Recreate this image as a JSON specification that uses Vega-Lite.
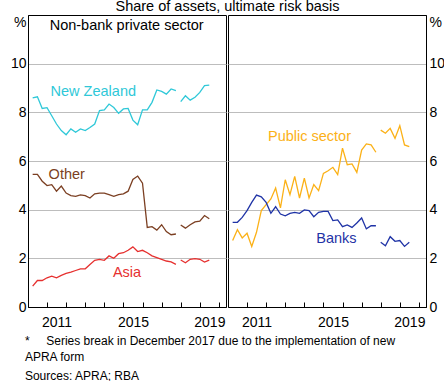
{
  "$schema": "https://vega.github.io/schema/vega-lite/v6.json",
  "padding": {"left": 9, "top": -2, "right": 1, "bottom": 0},
  "config": {
    "font": "Liberation Sans",
    "view": {"stroke": "black", "strokeWidth": 1},
    "concat": {"spacing": 0}
  },
  "title": {"text": "Share of assets, ultimate risk basis", "fontSize": 14.5, "fontWeight": "normal", "color": "black", "anchor": "middle", "frame": "bounds", "offset": 0},
  "datasets": {
    "main": [
      {"date": "2010-03-31", "seg": 1, "New Zealand": 8.59, "Other": 5.45, "Asia": 0.86, "Public sector": 2.73, "Banks": 3.48},
      {"date": "2010-06-30", "seg": 1, "New Zealand": 8.64, "Other": 5.45, "Asia": 1.09, "Public sector": 3.18, "Banks": 3.48},
      {"date": "2010-09-30", "seg": 1, "New Zealand": 8.16, "Other": 5.17, "Asia": 1.09, "Public sector": 2.84, "Banks": 3.68},
      {"date": "2010-12-31", "seg": 1, "New Zealand": 8.19, "Other": 4.99, "Asia": 1.2, "Public sector": 3.03, "Banks": 3.96},
      {"date": "2011-03-31", "seg": 1, "New Zealand": 7.86, "Other": 5.03, "Asia": 1.27, "Public sector": 2.49, "Banks": 4.3},
      {"date": "2011-06-30", "seg": 1, "New Zealand": 7.52, "Other": 4.76, "Asia": 1.2, "Public sector": 3.07, "Banks": 4.6},
      {"date": "2011-09-30", "seg": 1, "New Zealand": 7.25, "Other": 4.97, "Asia": 1.3, "Public sector": 3.96, "Banks": 4.53},
      {"date": "2011-12-31", "seg": 1, "New Zealand": 7.08, "Other": 4.68, "Asia": 1.38, "Public sector": 4.21, "Banks": 4.3},
      {"date": "2012-03-31", "seg": 1, "New Zealand": 7.32, "Other": 4.58, "Asia": 1.43, "Public sector": 4.44, "Banks": 3.85},
      {"date": "2012-06-30", "seg": 1, "New Zealand": 7.18, "Other": 4.55, "Asia": 1.5, "Public sector": 4.89, "Banks": 4.12},
      {"date": "2012-09-30", "seg": 1, "New Zealand": 7.32, "Other": 4.61, "Asia": 1.57, "Public sector": 4.07, "Banks": 3.82},
      {"date": "2012-12-31", "seg": 1, "New Zealand": 7.25, "Other": 4.58, "Asia": 1.57, "Public sector": 5.23, "Banks": 3.75},
      {"date": "2013-03-31", "seg": 1, "New Zealand": 7.38, "Other": 4.48, "Asia": 1.75, "Public sector": 4.62, "Banks": 3.85},
      {"date": "2013-06-30", "seg": 1, "New Zealand": 7.52, "Other": 4.65, "Asia": 1.92, "Public sector": 5.37, "Banks": 3.89},
      {"date": "2013-09-30", "seg": 1, "New Zealand": 8.07, "Other": 4.68, "Asia": 1.96, "Public sector": 4.48, "Banks": 3.85},
      {"date": "2013-12-31", "seg": 1, "New Zealand": 8.1, "Other": 4.68, "Asia": 1.92, "Public sector": 5.3, "Banks": 3.99},
      {"date": "2014-03-31", "seg": 1, "New Zealand": 8.34, "Other": 4.62, "Asia": 2.1, "Public sector": 4.48, "Banks": 3.96},
      {"date": "2014-06-30", "seg": 1, "New Zealand": 8.2, "Other": 4.55, "Asia": 2.0, "Public sector": 5.03, "Banks": 3.71},
      {"date": "2014-09-30", "seg": 1, "New Zealand": 7.96, "Other": 4.62, "Asia": 2.19, "Public sector": 4.78, "Banks": 3.89},
      {"date": "2014-12-31", "seg": 1, "New Zealand": 8.14, "Other": 4.65, "Asia": 2.23, "Public sector": 5.49, "Banks": 3.93},
      {"date": "2015-03-31", "seg": 1, "New Zealand": 8.16, "Other": 4.76, "Asia": 2.33, "Public sector": 5.6, "Banks": 3.93},
      {"date": "2015-06-30", "seg": 1, "New Zealand": 7.68, "Other": 5.24, "Asia": 2.47, "Public sector": 5.74, "Banks": 3.55},
      {"date": "2015-09-30", "seg": 1, "New Zealand": 7.49, "Other": 5.38, "Asia": 2.28, "Public sector": 5.44, "Banks": 3.58},
      {"date": "2015-12-31", "seg": 1, "New Zealand": 8.1, "Other": 5.09, "Asia": 2.33, "Public sector": 6.53, "Banks": 3.3},
      {"date": "2016-03-31", "seg": 1, "New Zealand": 8.1, "Other": 3.27, "Asia": 2.23, "Public sector": 5.85, "Banks": 3.37},
      {"date": "2016-06-30", "seg": 1, "New Zealand": 8.41, "Other": 3.3, "Asia": 2.1, "Public sector": 5.88, "Banks": 3.27},
      {"date": "2016-09-30", "seg": 1, "New Zealand": 8.92, "Other": 3.16, "Asia": 2.03, "Public sector": 5.53, "Banks": 3.45},
      {"date": "2016-12-31", "seg": 1, "New Zealand": 8.86, "Other": 3.38, "Asia": 1.96, "Public sector": 6.45, "Banks": 3.66},
      {"date": "2017-03-31", "seg": 1, "New Zealand": 8.75, "Other": 3.1, "Asia": 1.89, "Public sector": 6.7, "Banks": 3.21},
      {"date": "2017-06-30", "seg": 1, "New Zealand": 8.96, "Other": 2.97, "Asia": 1.85, "Public sector": 6.66, "Banks": 3.34},
      {"date": "2017-09-30", "seg": 1, "New Zealand": 8.89, "Other": 3.0, "Asia": 1.75, "Public sector": 6.36, "Banks": 3.34},
      {"date": "2017-12-31", "seg": 2, "New Zealand": 8.44, "Other": 3.37, "Asia": 1.93, "Public sector": 7.27, "Banks": 2.66},
      {"date": "2018-03-31", "seg": 2, "New Zealand": 8.68, "Other": 3.24, "Asia": 1.82, "Public sector": 7.14, "Banks": 2.52},
      {"date": "2018-06-30", "seg": 2, "New Zealand": 8.5, "Other": 3.38, "Asia": 1.96, "Public sector": 7.34, "Banks": 2.89},
      {"date": "2018-09-30", "seg": 2, "New Zealand": 8.62, "Other": 3.5, "Asia": 1.99, "Public sector": 6.93, "Banks": 2.7},
      {"date": "2018-12-31", "seg": 2, "New Zealand": 8.82, "Other": 3.53, "Asia": 1.96, "Public sector": 7.45, "Banks": 2.73},
      {"date": "2019-03-31", "seg": 2, "New Zealand": 9.1, "Other": 3.76, "Asia": 1.85, "Public sector": 6.66, "Banks": 2.49},
      {"date": "2019-06-30", "seg": 2, "New Zealand": 9.12, "Other": 3.63, "Asia": 1.93, "Public sector": 6.59, "Banks": 2.66}
    ],
    "labels": [
      {"label": "Non-bank private sector", "date": "2015-03-03", "value": 11.55, "panel": "L"},
      {"label": "New Zealand", "date": "2013-06-03", "value": 8.84, "panel": "L"},
      {"label": "Other", "date": "2012-01-12", "value": 5.44, "panel": "L"},
      {"label": "Asia", "date": "2015-03-10", "value": 1.4, "panel": "L"},
      {"label": "Public sector", "date": "2014-04-08", "value": 6.98, "panel": "R"},
      {"label": "Banks", "date": "2015-09-06", "value": 2.81, "panel": "R"}
    ]
  },
  "vconcat": [
    {
      "title": {
        "text": ["*\u00a0\u00a0\u00a0\u00a0\u00a0Series break in December 2017 due to the implementation of new", "\u00a0\u00a0\u00a0\u00a0\u00a0\u00a0\u00a0APRA form"],
        "subtitle": "Sources: APRA; RBA",
        "orient": "bottom", "anchor": "start", "frame": "bounds", "dx": 15, "offset": 6,
        "fontSize": 12, "fontWeight": "normal", "color": "black", "lineHeight": 16,
        "subtitleFontSize": 12, "subtitleColor": "black", "subtitlePadding": 7, "subtitleFont": "Liberation Sans"
      },
      "hconcat": [
        {
          "width": 198, "height": 292,
          "encoding": {
            "x": {"field": "date", "type": "temporal",
              "scale": {"type": "utc", "domain": [1262304000000, 1589500800000]},
              "axis": {"title": null, "grid": false, "orient": "bottom",
                "values": [1293840000000, 1325376000000, 1356998400000, 1388534400000, 1420070400000, 1451606400000, 1483228800000, 1514764800000, 1546300800000, 1577836800000, 1309564800000, 1435795200000, 1562025600000],
                "labelExpr": "utcmonth(datum.value) > 3 ? utcFormat(datum.value, '%Y') : ''",
                "tickOpacity": {"condition": {"test": "utcmonth(datum.value) > 3", "value": 0}, "value": 1},
                "tickSize": -5, "tickColor": "black", "domainColor": "black", "labelPadding": 13,
                "labelFontSize": 14, "labelColor": "black", "labelFlush": false, "labelOverlap": false}},
            "y": {"field": "value", "type": "quantitative", "scale": {"domain": [0, 12], "nice": false},
              "axis": {"title": null, "orient": "left", "values": [0, 2, 4, 6, 8, 10, 12],
                "labelExpr": "datum.value == 12 ? '%' : datum.label",
                "labelBaseline": {"condition": {"test": "datum.value == 12", "value": "top"}, "value": "middle"},
                "grid": true, "gridColor": "#bdbdbd",
                "gridOpacity": {"condition": {"test": "datum.value == 0 || datum.value == 12", "value": 0}, "value": 1},
                "tickSize": 0, "labelPadding": 2, "domainColor": "black",
                "labelFontSize": 14, "labelColor": "black", "labelFlush": false, "labelOverlap": false}}
          },
          "layer": [
            {
              "data": {"name": "main"},
              "transform": [{"fold": ["New Zealand", "Other", "Asia"], "as": ["series", "value"]}],
              "mark": {"type": "line", "strokeWidth": 1.3},
              "encoding": {
                "color": {"field": "series", "type": "nominal", "legend": null,
                  "scale": {"domain": ["New Zealand", "Other", "Asia", "Public sector", "Banks", "Non-bank private sector"], "range": ["#2fc8d8", "#7b3f22", "#e6302f", "#fbb117", "#1f33a6", "#000000"]}},
                "detail": {"field": "seg", "type": "nominal"}
              }
            },
            {
              "data": {"name": "labels"},
              "transform": [{"filter": "datum.panel == 'L'"}],
              "mark": {"type": "text", "fontSize": 14.5, "align": "center", "baseline": "middle"},
              "encoding": {
                "text": {"field": "label"},
                "color": {"field": "label", "type": "nominal", "legend": null,
                  "scale": {"domain": ["New Zealand", "Other", "Asia", "Public sector", "Banks", "Non-bank private sector"], "range": ["#2fc8d8", "#7b3f22", "#e6302f", "#fbb117", "#1f33a6", "#000000"]}}
              }
            }
          ]
        },
        {
          "width": 198, "height": 292,
          "encoding": {
            "x": {"field": "date", "type": "temporal",
              "scale": {"type": "utc", "domain": [1262304000000, 1589500800000]},
              "axis": {"title": null, "grid": false, "orient": "bottom",
                "values": [1293840000000, 1325376000000, 1356998400000, 1388534400000, 1420070400000, 1451606400000, 1483228800000, 1514764800000, 1546300800000, 1577836800000, 1309564800000, 1435795200000, 1562025600000],
                "labelExpr": "utcmonth(datum.value) > 3 ? utcFormat(datum.value, '%Y') : ''",
                "tickOpacity": {"condition": {"test": "utcmonth(datum.value) > 3", "value": 0}, "value": 1},
                "tickSize": -5, "tickColor": "black", "domainColor": "black", "labelPadding": 13,
                "labelFontSize": 14, "labelColor": "black", "labelFlush": false, "labelOverlap": false}},
            "y": {"field": "value", "type": "quantitative", "scale": {"domain": [0, 12], "nice": false},
              "axis": {"title": null, "orient": "right", "values": [0, 2, 4, 6, 8, 10, 12],
                "labelExpr": "datum.value == 12 ? '%' : datum.label",
                "labelBaseline": {"condition": {"test": "datum.value == 12", "value": "top"}, "value": "middle"},
                "grid": true, "gridColor": "#bdbdbd",
                "gridOpacity": {"condition": {"test": "datum.value == 0 || datum.value == 12", "value": 0}, "value": 1},
                "tickSize": 0, "labelPadding": 3, "domainColor": "black",
                "labelFontSize": 14, "labelColor": "black", "labelFlush": false, "labelOverlap": false}}
          },
          "layer": [
            {
              "data": {"name": "main"},
              "transform": [{"fold": ["Public sector", "Banks"], "as": ["series", "value"]}],
              "mark": {"type": "line", "strokeWidth": 1.3},
              "encoding": {
                "color": {"field": "series", "type": "nominal", "legend": null,
                  "scale": {"domain": ["New Zealand", "Other", "Asia", "Public sector", "Banks", "Non-bank private sector"], "range": ["#2fc8d8", "#7b3f22", "#e6302f", "#fbb117", "#1f33a6", "#000000"]}},
                "detail": {"field": "seg", "type": "nominal"}
              }
            },
            {
              "data": {"name": "labels"},
              "transform": [{"filter": "datum.panel == 'R'"}],
              "mark": {"type": "text", "fontSize": 14.5, "align": "center", "baseline": "middle"},
              "encoding": {
                "text": {"field": "label"},
                "color": {"field": "label", "type": "nominal", "legend": null,
                  "scale": {"domain": ["New Zealand", "Other", "Asia", "Public sector", "Banks", "Non-bank private sector"], "range": ["#2fc8d8", "#7b3f22", "#e6302f", "#fbb117", "#1f33a6", "#000000"]}}
              }
            }
          ]
        }
      ]
    }
  ]
}
